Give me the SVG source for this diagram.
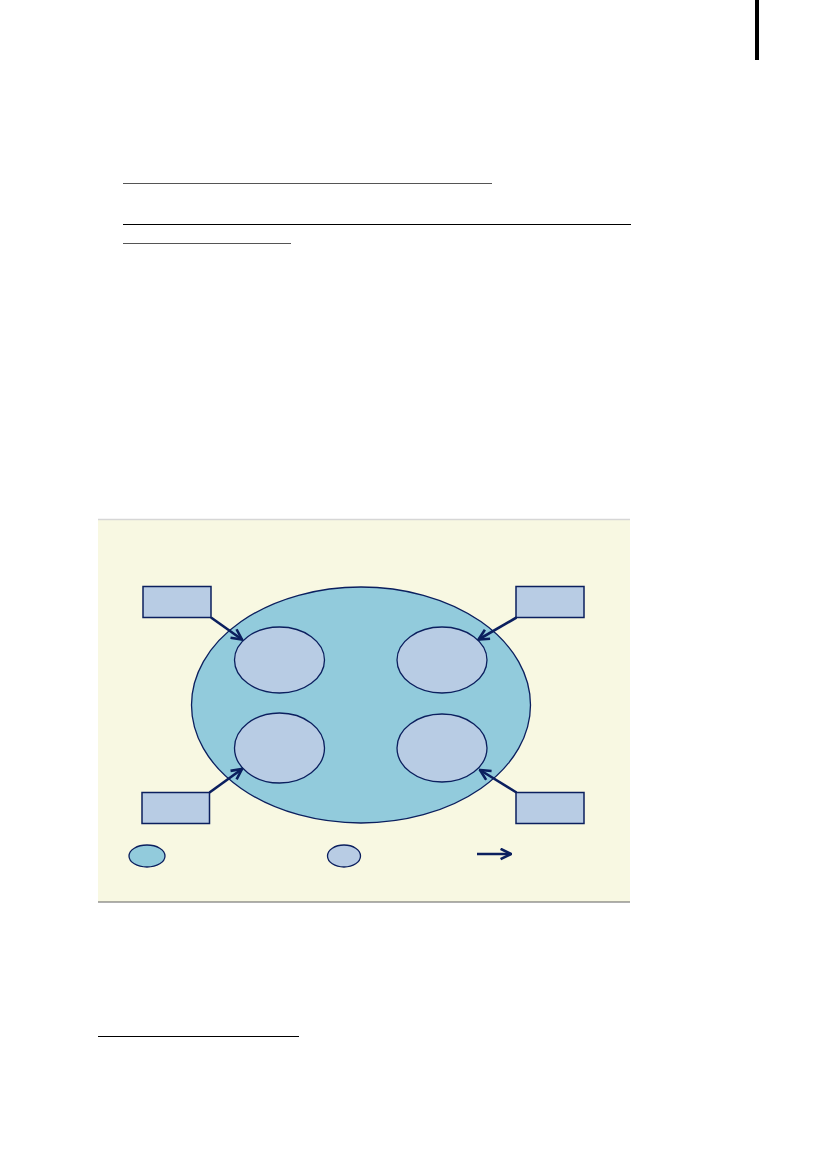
<svg xmlns="http://www.w3.org/2000/svg" width="827" height="1169" viewBox="0 0 827 1169">
<defs>
<style>
.big{fill:#92cbdc;stroke:#0b1f5e;stroke-width:1.3}
.sub{fill:#b8cce4;stroke:#0b1f5e;stroke-width:1.3}
.box{fill:#b8cce4;stroke:#0b1f5e;stroke-width:1.5}
.conn{stroke:#0b1f5e;stroke-width:2.6;fill:none;marker-end:url(#chev)}
.rule{stroke-width:1.2}
</style>
<marker id="chev" viewBox="0 0 10 10" refX="9" refY="5" markerWidth="5" markerHeight="5" markerUnits="strokeWidth" orient="auto">
<path d="M1,1 L9,5 L1,9" fill="none" stroke="#0b1f5e" stroke-width="2"/>
</marker>
</defs>
<rect x="0" y="0" width="827" height="1169" fill="#ffffff"/>
<rect x="755" y="0" width="4" height="60" fill="#000000"/>
<g id="rules">
<line class="rule" x1="123" y1="183.5" x2="492" y2="183.5" stroke="#555555"/>
<line class="rule" x1="123" y1="224.5" x2="631" y2="224.5" stroke="#000000"/>
<line class="rule" x1="123" y1="243.5" x2="291" y2="243.5" stroke="#555555"/>
<line class="rule" x1="98" y1="1036.5" x2="299" y2="1036.5" stroke="#000000"/>
</g>
<g id="panel">
<rect x="98" y="519" width="532" height="383" fill="#f8f8e2"/>
<line x1="98" y1="519.5" x2="630" y2="519.5" stroke="#d6d6d6" stroke-width="1.5"/>
<line x1="98" y1="902" x2="630" y2="902" stroke="#606060" stroke-width="1.2"/>
</g>
<g id="outer"><ellipse class="big" cx="361" cy="705" rx="169.5" ry="118"/></g>
<g id="inner-tl"><ellipse class="sub" cx="279.5" cy="660" rx="45" ry="33"/></g>
<g id="inner-tr"><ellipse class="sub" cx="442" cy="660" rx="45" ry="33"/></g>
<g id="inner-bl"><ellipse class="sub" cx="279.5" cy="748" rx="45" ry="35"/></g>
<g id="inner-br"><ellipse class="sub" cx="442" cy="748" rx="45" ry="34"/></g>
<g id="box-tl"><rect class="box" x="143" y="586.5" width="68" height="31"/></g>
<g id="box-tr"><rect class="box" x="516" y="586.5" width="68" height="31"/></g>
<g id="box-bl"><rect class="box" x="142" y="792.5" width="67.5" height="31"/></g>
<g id="box-br"><rect class="box" x="516" y="792.5" width="68" height="31"/></g>
<g id="connectors">
<line class="conn" x1="211" y1="617.5" x2="242" y2="639.5"/>
<line class="conn" x1="516.5" y1="617.5" x2="478.5" y2="639.5"/>
<line class="conn" x1="209.5" y1="792.5" x2="242" y2="769"/>
<line class="conn" x1="516.5" y1="792.5" x2="480" y2="770"/>
</g>
<g id="legend">
<ellipse class="big" cx="147" cy="856" rx="18" ry="11"/>
<ellipse class="sub" cx="344" cy="856" rx="16.5" ry="11"/>
<line class="conn" x1="477" y1="854" x2="511" y2="854"/>
</g>
</svg>
